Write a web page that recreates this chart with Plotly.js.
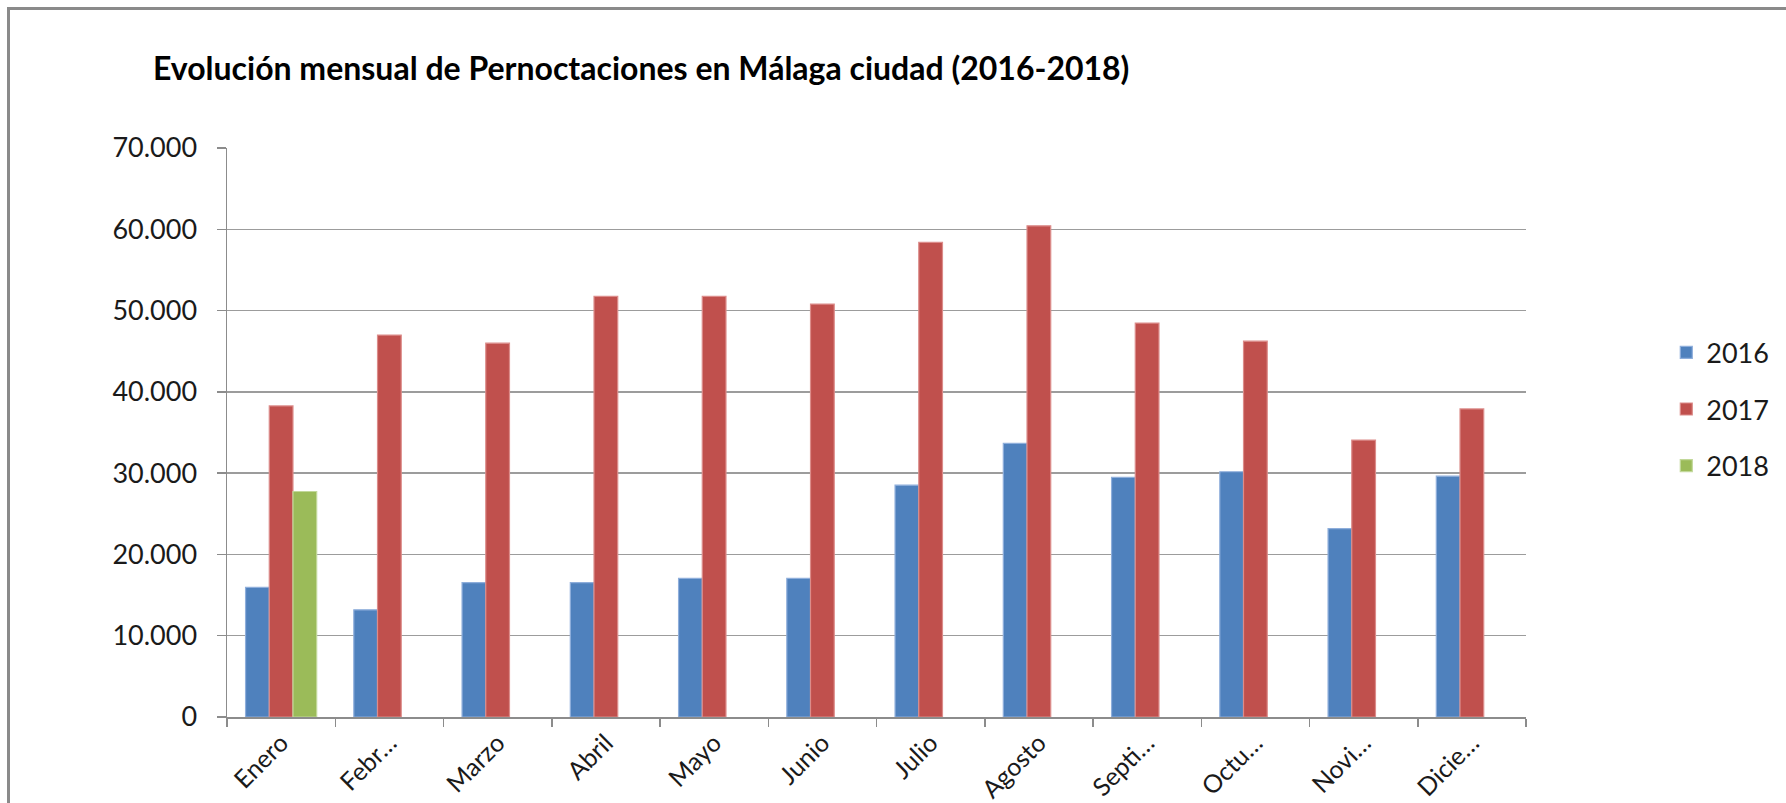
<!DOCTYPE html>
<html><head><meta charset="utf-8">
<script src="https://cdn.plot.ly/plotly-3.0.1.min.js"></script>
<style>
html,body{margin:0;padding:0;background:#fff;}
#wrap{position:absolute;left:0;top:0;width:1786px;height:803px;overflow:hidden;}
#frame{position:absolute;left:7px;top:7px;width:3000px;height:3000px;border-left:3px solid #8a8a8a;border-top:3px solid #8a8a8a;}
#chart{position:absolute;left:0;top:0;width:1786px;height:803px;}
</style></head>
<body>
<div id="wrap"><div id="frame"></div><div id="chart"></div></div>
<script>
const months = ['Enero','Febrero','Marzo','Abril','Mayo','Junio','Julio','Agosto','Septiembre','Octubre','Noviembre','Diciembre'];
const tickLabels = ['Enero','Febr…','Marzo','Abril','Mayo','Junio','Julio','Agosto','Septi…','Octu…','Novi…','Dicie…'];
const seriesNames = ['2016','2017','2018'];
const v2016 = [15950,13190,16520,16520,17060,17060,28520,33660,29470,30170,23180,29630];
const v2017 = [38270,46980,45990,51750,51750,50800,58400,60420,48460,46240,34070,37900];
const v2018 = [27740,null,null,null,null,null,null,null,null,null,null,null];
const yTicks = [0,10000,20000,30000,40000,50000,60000,70000];

const colors = ['#4F81BD','#C0504D','#9BBB59'];
const edges = ['#8eaedb','#dc8c8a','#c2d89a'];
const values = [v2016, v2017, v2018];

const FONT = 'Lato, "Open Sans", sans-serif';
const traces = values.map((v,i)=>({
  type:'bar', name:seriesNames[i], x:months, y:v,
  legendgroup:'g'+i,
  marker:{color:colors[i], line:{color:edges[i], width:1.2}},
  hoverinfo:'x+y'
}));

const layout = {
  width:1786, height:803,
  margin:{l:227, r:250, t:148, b:86},
  paper_bgcolor:'rgba(0,0,0,0)', plot_bgcolor:'rgba(0,0,0,0)',
  separators:',.',
  font:{family:FONT, color:'#1a1a1a', size:27},
  title:{text:'<b>Evolución mensual de Pernoctaciones en Málaga ciudad (2016-2018)</b>',
    x:153/1786, xanchor:'left', xref:'container',
    y:1-69/803, yanchor:'middle', yref:'container',
    font:{family:FONT, size:32, color:'#000'}},
  barmode:'group', bargap:0.343, bargroupgap:0,
  xaxis:{type:'category', tickvals:months, ticktext:tickLabels, tickangle:-45,
    showline:true, linecolor:'#8c8c8c', linewidth:1.5,
    ticks:'outside', tickson:'boundaries', ticklen:8, tickcolor:'#8c8c8c', tickwidth:1.5,
    showgrid:false, tickfont:{size:25, color:'#1a1a1a'}},
  yaxis:{range:[0,70000], tickvals:yTicks, tickformat:',d',
    showline:true, linecolor:'#8c8c8c', linewidth:1.5,
    ticks:'outside', ticklen:9, tickcolor:'#8c8c8c', tickwidth:1.5,
    showgrid:true, gridcolor:'#9c9c9c', gridwidth:1.5, zeroline:false,
    ticklabelstandoff:14, tickfont:{size:27, color:'#1a1a1a'}},
  legend:{x:1.108, xanchor:'left', y:0.683, yanchor:'top', traceorder:'grouped',
    tracegroupgap:18.5, font:{size:27, color:'#1a1a1a'}, bgcolor:'rgba(0,0,0,0)'},
  showlegend:true
};
Plotly.newPlot('chart', traces, layout, {displayModeBar:false, staticPlot:true});
</script>
</body></html>
